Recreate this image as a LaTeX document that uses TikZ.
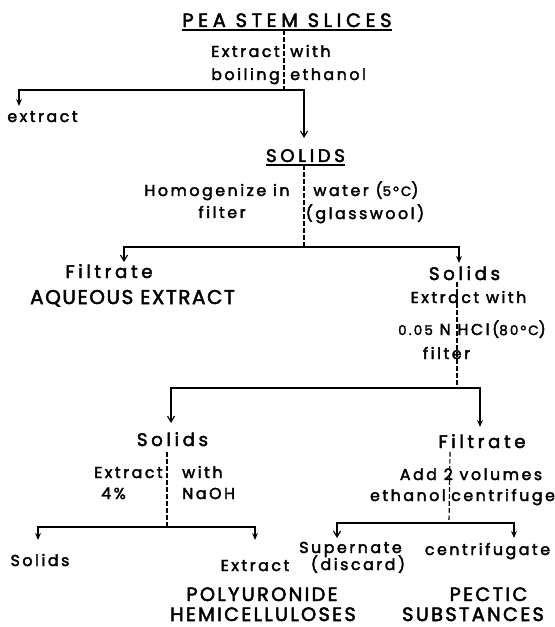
\documentclass[tikz,border=0pt]{standalone}
\usepackage{fontspec}
\setmainfont{Poppins}
\newfontfamily\lettering[LetterSpace=16, FakeBold=2.5]{Poppins}
\newfontfamily\titlelettering[LetterSpace=24, FakeBold=2.5]{Poppins}
\newcommand\lowdig[1]{{\fontsize{11.5}{13}\selectfont#1}}
\usetikzlibrary{arrows.meta,calc}

\begin{document}
\begin{tikzpicture}[x=0.03cm, y=-0.03cm,
    txt/.style={inner sep=0pt, anchor=base, font=\lettering\fontsize{13.5}{15}\selectfont},
    head/.style={txt, font=\titlelettering\fontsize{16.5}{18}\selectfont},
    prod/.style={txt, font=\lettering\addfontfeatures{LetterSpace=12}\fontsize{16.5}{18}\selectfont},
    mid/.style={txt, font=\lettering\addfontfeatures{LetterSpace=20}\fontsize{15.5}{17}\selectfont},
    big/.style={txt, font=\lettering\addfontfeatures{LetterSpace=8}\fontsize{17}{20}\selectfont},
    line/.style={line width=1pt},
    dashline/.style={line width=1pt, dash pattern=on 4pt off 2pt},
    opentip/.style={line width=1pt, -{Straight Barb[length=5pt,width=6pt]}},
    filltip/.style={line width=1pt, -{Stealth[length=6pt,width=5pt]}},
]
\useasboundingbox (0,0) rectangle (554,627);

% starting material
\node[head] (pea) at (287,27) {PEA STEM SLICES};
\draw[line] ($(pea.base west)+(0,3)$) -- ($(pea.base east)+(0,3)$);
\node[txt, anchor=base east] (ex1) at (280,57) {Extract};
\node[txt, anchor=base west] (wi1) at (290,57) {with};
\node[txt, anchor=base east] (bo1) at (280,80) {boiling};
\node[txt, anchor=base west] (et1) at (290,80) {ethanol};
\coordinate (j1) at (284,90);
\node[txt] (ext0) at (42.5,122) {extract};
\node[mid] (sol1) at (305.5,162) {SOLIDS};
\draw[line] ($(sol1.base west)+(0,3)$) -- ($(sol1.base east)+(0,3)$);
\draw[dashline] ($(pea.base)+(-3,3)$) -- (j1);
\draw[filltip] (j1) -| ($(ext0.base)+(-23.5,-16)$);
\draw[opentip] (j1) -| ($(sol1.base)+(-1.5,-24)$);

% water step
\node[txt] (hom) at (217,196) {Homogenize in};
\node[txt] (fil1) at (222,218) {filter};
\node[txt] (wat) at (366,196) {water (\lowdig{5°C})};
\node[txt] (gla) at (365,219) {(glasswool)};
\coordinate (j2) at (304,247);
\draw[dashline] ($(sol1.base)+(-1.5,3)$) -- (j2);
\node[mid] (filt1) at (109,278) {Filtrate};
\node[big] (aqu) at (132.5,304) {AQUEOUS EXTRACT};
\node[mid] (sol2) at (464.5,280) {Solids};
\node[txt] (ex2) at (468.5,303) {Extract with};
\node[txt] (hcl) at (472,335) {\lowdig{0.05} N HCl(\lowdig{80°C})};
\node[txt] (fil2) at (446.5,359) {filter};
\draw[opentip] (j2) -| ($(filt1.base)+(15,-16)$);
\draw[filltip] (j2) -| ($(sol2.base)+(-5.5,-17)$);

% acid step
\coordinate (j3) at (457,388);
\draw[dashline] ($(sol2.base)+(-7.5,2)$) -- (j3);
\node[mid] (sol3) at (172.5,446) {Solids};
\node[mid] (filt2) at (482,448) {Filtrate};
\draw[opentip] (j3) -| ($(sol3.base)+(-1.5,-23)$);
\draw[filltip] (j3) -| ($(filt2.base)+(-2,-21)$);

% alkali step
\node[txt, anchor=base east] (ex3) at (163,478) {Extract};
\node[txt, anchor=base west] (wi3) at (182,478) {with};
\node[txt] (pct) at (113.5,499) {4\%};
\node[txt, anchor=base west] (nao) at (182,499) {NaOH};
\coordinate (j4) at (167,527);
\draw[dashline] ($(sol3.base)+(-5.5,6)$) -- (j4);
\node[txt] (sol4) at (40,566) {Solids};
\node[txt] (ex4) at (255,571) {Extract};
\node[prod] (poly) at (262,601) {POLYURONIDE};
\node[prod] (hemi) at (263,621) {HEMICELLULOSES};
\draw[filltip] (j4) -| ($(sol4.base)+(-2,-26)$);
\draw[filltip] (j4) -| ($(ex4.base)+(0,-31)$);

% ethanol precipitation
\node[txt] (add) at (471,480) {Add 2 volumes};
\node[txt, anchor=base east] (eth2) at (446,501) {ethanol};
\node[txt, anchor=base west] (cen) at (451,501) {centrifuge};
\coordinate (j5) at (449,523);
\draw[dashline] ($(filt2.base)+(-32,4)$) -- (j5);
\node[txt] (sup) at (350.5,553) {Supernate};
\node[txt] (dis) at (358,570) {(discard)};
\node[txt] (cfg) at (487.5,555) {centrifugate};
\node[prod] (pec) at (488.5,601) {PECTIC};
\node[prod] (sub) at (473,621) {SUBSTANCES};
\draw[opentip] (j5) -| ($(sup.base)+(-13.5,-15)$);
\draw[filltip] (j5) -| ($(cfg.base)+(26.5,-17)$);
\end{tikzpicture}
\end{document}
